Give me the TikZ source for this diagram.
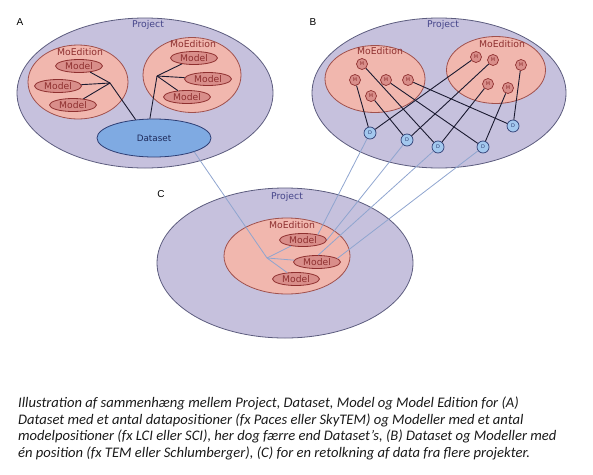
\documentclass[tikz,border=0pt]{standalone}
\usepackage{fontspec}
\setmainfont{Carlito}
\newfontfamily\lblfont{DejaVu Sans}
\newfontfamily\letterfont{Liberation Sans}
\usetikzlibrary{shapes.geometric}
\definecolor{projfill}{HTML}{C6C1DD}
\definecolor{projline}{HTML}{5C5C7E}
\definecolor{mofill}{HTML}{F1B7AE}
\definecolor{moline}{HTML}{A0504C}
\definecolor{modfill}{HTML}{D98E8A}
\definecolor{modline}{HTML}{8E2F2F}
\definecolor{projtext}{HTML}{45458A}
\definecolor{dsfill}{HTML}{7FAAE2}
\definecolor{dsline}{HTML}{2E3E74}
\definecolor{dstext}{HTML}{1E2A5A}
\definecolor{dfill}{HTML}{A3C8EE}
\definecolor{linkdark}{HTML}{1A1A30}
\definecolor{xlinkc}{HTML}{8FA5CF}
\definecolor{captext}{HTML}{1A1A1A}
\begin{document}
\begin{tikzpicture}[x=1pt,y=-1pt,
  proj/.style={ellipse, draw=projline, fill=projfill, line width=0.8pt, inner sep=0pt},
  moed/.style={ellipse, draw=moline, fill=mofill, line width=0.8pt, inner sep=0pt},
  projlbl/.style={font=\lblfont\fontsize{9.3}{10}\selectfont, text=projtext, inner sep=0pt},
  moedlbl/.style={font=\lblfont\fontsize{9.3}{10}\selectfont, text=modline, inner sep=0pt},
  model/.style={ellipse, draw=modline, fill=modfill, line width=0.8pt, minimum width=47pt, minimum height=13pt, inner sep=0pt, font=\lblfont\fontsize{9.2}{10}\selectfont, text=modline},
  mcirc/.style={circle, draw=modline, fill=modfill, line width=0.7pt, minimum size=11pt, inner sep=0pt, font=\lblfont\fontsize{5}{5}\selectfont, text=modline},
  dcirc/.style={circle, draw=dsline, fill=dfill, line width=0.7pt, minimum size=12pt, inner sep=0pt, font=\lblfont\fontsize{5}{5}\selectfont, text=dsline},
  dataset/.style={ellipse, draw=dsline, fill=dsfill, line width=0.8pt, minimum width=114pt, minimum height=38pt, inner sep=0pt, font=\lblfont\fontsize{8.8}{10}\selectfont, text=dstext},
  letter/.style={font=\letterfont\fontsize{10}{11}\selectfont, inner sep=0pt},
  link/.style={draw=linkdark, line width=0.9pt},
  xlink/.style={draw=xlinkc, line width=0.8pt},
  captionline/.style={anchor=base west, inner sep=0pt, font=\itshape\fontsize{14.6}{16}\selectfont, text=captext}
]
\path[use as bounding box] (0,0) rectangle (593,474);

% ---------- A ----------
\node[letter] (lA) at (20,22) {A};
\node[proj, minimum width=256pt, minimum height=150pt] (pA) at (145,93) {};
\node[projlbl] (pAl) at (148,25) {Project};
\node[moed, minimum width=100pt, minimum height=74pt] (eA1) at (78,82) {};
\node[moed, minimum width=98pt, minimum height=75pt] (eA2) at (192,75) {};
\node[moedlbl] (eA1l) at (80,52) {MoEdition};
\node[moedlbl] (eA2l) at (193,44) {MoEdition};
\node[model] (mA1) at (79,66) {Model};
\node[model] (mA2) at (58,86) {Model};
\node[model] (mA3) at (73,105) {Model};
\node[model] (mA4) at (194,58) {Model};
\node[model] (mA5) at (208,79) {Model};
\node[model] (mA6) at (187,97) {Model};
\node[dataset] (dsA) at (154,138) {Dataset};
\coordinate (jA1) at (110,83);
\coordinate (jA2) at (157,76);
\draw[link] (mA1) -- (jA1) -- (dsA.135);
\draw[link] (mA2) -- (jA1);
\draw[link] (mA3) -- (jA1);
\draw[link] (dsA.102) -- (jA2);
\draw[link] (mA4) -- (jA2);
\draw[link] (mA5) -- (jA2);
\draw[link] (mA6) -- (jA2);

% ---------- B ----------
\node[letter] (lB) at (313,22) {B};
\node[proj, minimum width=254pt, minimum height=150pt] (pB) at (439,93) {};
\node[projlbl] (pBl) at (443,25) {Project};
\node[moed, minimum width=100pt, minimum height=67pt] (eB1) at (375,79) {};
\node[moed, minimum width=99pt, minimum height=67pt] (eB2) at (496,70) {};
\node[moedlbl] (eB1l) at (380,51) {MoEdition};
\node[moedlbl] (eB2l) at (502,44) {MoEdition};
\node[mcirc] (b1) at (362,64) {M};
\node[mcirc] (b2) at (355,80) {M};
\node[mcirc] (b3) at (386,80) {M};
\node[mcirc] (b4) at (408,80) {M};
\node[mcirc] (b5) at (371,96) {M};
\node[mcirc] (b6) at (476,57) {M};
\node[mcirc] (b7) at (493,60) {M};
\node[mcirc] (b8) at (521,65) {M};
\node[mcirc] (b9) at (488,84) {M};
\node[mcirc] (b10) at (508,88) {M};
\node[dcirc] (d1) at (370,133) {D};
\node[dcirc] (d2) at (407,140) {D};
\node[dcirc] (d3) at (438,147) {D};
\node[dcirc] (d4) at (483,147) {D};
\node[dcirc] (d5) at (513,126) {D};
\draw[link] (b2) -- (d1);
\draw[link] (b1) -- (d3);
\draw[link] (b5) -- (d2);
\draw[link] (b3) -- (d4);
\draw[link] (b4) -- (d5);
\draw[link] (b6) -- (d1);
\draw[link] (b7) -- (d2);
\draw[link] (b9) -- (d3);
\draw[link] (b10) -- (d4);
\draw[link] (b8) -- (d5);

% ---------- C ----------
\node[letter] (lC) at (161,194) {C};
\node[proj, minimum width=256pt, minimum height=150pt] (pC) at (285,263) {};
\node[projlbl] (pCl) at (287,197) {Project};
\node[moed, minimum width=126pt, minimum height=76pt] (eC) at (287,256) {};
\node[moedlbl] (eCl) at (292,225) {MoEdition};
\node[model] (mC1) at (303,240) {Model};
\node[model] (mC2) at (317,262) {Model};
\node[model] (mC3) at (296,279) {Model};
\coordinate (jC) at (267,258);
\draw[xlink] (dsA.-19) -- (jC);
\draw[xlink] (jC) -- (mC1);
\draw[xlink] (jC) -- (mC2);
\draw[xlink] (jC) -- (mC3);
\draw[xlink] (d1) -- (mC1.20);
\draw[xlink] (d2) -- (mC1.0);
\draw[xlink] (d3) -- (mC2.80);
\draw[xlink] (d4) -- (mC2.10);

% ---------- caption ----------
\node[captionline] (c1) at (18,407) {Illustration af sammenhæng mellem Project, Dataset, Model og Model Edition for (A)};
\node[captionline] (c2) at (18,424) {Dataset med et antal datapositioner (fx Paces eller SkyTEM) og Modeller med et antal};
\node[captionline] (c3) at (18,440.8) {modelpositioner (fx LCI eller SCI), her dog færre end Dataset’s, (B) Dataset og Modeller med};
\node[captionline] (c4) at (18,457.5) {én position (fx TEM eller Schlumberger), (C) for en retolkning af data fra flere projekter.};
\end{tikzpicture}
\end{document}
